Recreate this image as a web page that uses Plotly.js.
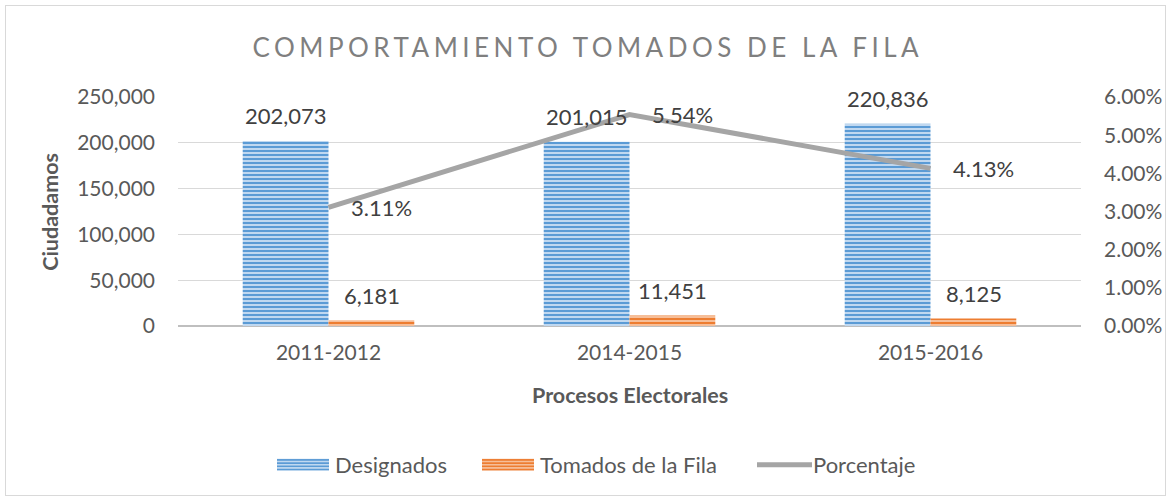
<!DOCTYPE html>
<html>
<head>
<meta charset="utf-8">
<script src="https://cdn.plot.ly/plotly-3.0.1.min.js"></script>
<style>
  html, body { margin: 0; padding: 0; background: #fff; }
  #wrap { position: relative; width: 1171px; height: 501px; }
  #chart { position: absolute; left: 0; top: 0; width: 1171px; height: 501px; }
  #frame { position: absolute; left: 5px; top: 5px; width: 1159px; height: 489px; border: 1px solid #D9D9D9; pointer-events: none; }
  .gtitle { letter-spacing: 4.5px; }
</style>
</head>
<body>
<div id="wrap">
  <div id="chart"></div>
  <div id="frame"></div>
</div>
<script>
// ---- data ----
const categories = ["2011-2012", "2014-2015", "2015-2016"];
const designados = [202073, 201015, 220836];
const tomados = [6181, 11451, 8125];
const porcentaje = [0.0311, 0.0554, 0.0413];
const leftTicks = [0, 50000, 100000, 150000, 200000, 250000];
const rightTicks = [0, 0.01, 0.02, 0.03, 0.04, 0.05, 0.06];

const FONT = "Lato, 'Open Sans', sans-serif";
const fmtInt = v => v.toLocaleString("en-US");
const fmtPct = v => (v * 100).toFixed(2) + "%";

const traces = [
  {
    type: "bar", name: "Designados", x: categories, y: designados,
    marker: { color: "#5B9BD5",
      pattern: { shape: "-", fgcolor: "#5B9BD5", bgcolor: "#C0D8F0", size: 4, solidity: 0.5, fillmode: "replace" },
      line: { width: 0 } },
    hoverinfo: "skip"
  },
  {
    type: "bar", name: "Tomados de la Fila", x: categories, y: tomados,
    marker: { color: "#ED7D31",
      pattern: { shape: "-", fgcolor: "#ED7D31", bgcolor: "#F6BE98", size: 4, solidity: 0.5, fillmode: "replace" },
      line: { width: 0 } },
    hoverinfo: "skip"
  },
  {
    type: "scatter", mode: "lines", name: "Porcentaje", x: categories, y: porcentaje,
    yaxis: "y2", line: { color: "#A5A5A5", width: 5 }, hoverinfo: "skip"
  }
];

const LBL = { family: FONT, size: 22, color: "#404040" };
const annotations = [];
categories.forEach((c, i) => {
  annotations.push({ x: c, y: designados[i], xref: "x", yref: "y", text: fmtInt(designados[i]),
    showarrow: false, xshift: -43, yshift: 25, font: LBL });
  annotations.push({ x: c, y: tomados[i], xref: "x", yref: "y", text: fmtInt(tomados[i]),
    showarrow: false, xshift: 43, yshift: 25, font: LBL });
  annotations.push({ x: c, y: porcentaje[i], xref: "x", yref: "y2", text: fmtPct(porcentaje[i]),
    showarrow: false, xanchor: "left", xshift: 20, yshift: 0, font: LBL });
});
annotations.push({ xref: "paper", yref: "paper", x: -0.1425, y: 0.5, xanchor: "center", yanchor: "middle", textangle: -90,
  text: "<b>Ciudadamos</b>", showarrow: false, font: { family: FONT, size: 21.5, color: "#595959" } });
annotations.push({ xref: "paper", yref: "paper", x: 0.5, y: -0.301, xanchor: "center", yanchor: "middle",
  text: "<b>Procesos Electorales</b>", showarrow: false, font: { family: FONT, size: 21.5, color: "#595959" } });

const layout = {
  width: 1171, height: 501,
  margin: { l: 178, r: 90, t: 97, b: 175 },
  paper_bgcolor: "#fff", plot_bgcolor: "#fff",
  font: { family: FONT, size: 21, color: "#595959" },
  title: { text: "COMPORTAMIENTO TOMADOS DE LA FILA", x: 0.502, xref: "container", xanchor: "center",
    y: 0.905, yref: "container", yanchor: "middle",
    font: { family: FONT, size: 26, color: "#7F7F7F" } },
  barmode: "group", bargap: 0.43, bargroupgap: 0,
  showlegend: true,
  legend: { orientation: "h", xref: "container", x: 0.51, xanchor: "center", yref: "container", y: 0.072, yanchor: "middle",
    font: { family: FONT, size: 22, color: "#595959" }, itemwidth: 60, traceorder: "normal" },
  xaxis: {
    type: "category", showgrid: false, showline: false, ticks: "", ticklabelstandoff: 12,
    tickfont: { family: FONT, size: 21, color: "#595959" }, fixedrange: true
  },
  yaxis: {
    range: [0, 250000], tickvals: leftTicks, ticktext: leftTicks.map(fmtInt),
    showgrid: true, gridcolor: "#D9D9D9", gridwidth: 1,
    zeroline: true, zerolinecolor: "#BFBFBF", zerolinewidth: 2,
    ticks: "", ticklabelstandoff: 22, showline: false,
    tickfont: { family: FONT, size: 21, color: "#595959" }, fixedrange: true
  },
  yaxis2: {
    overlaying: "y", side: "right", range: [0, 0.06], tickvals: rightTicks, ticktext: rightTicks.map(fmtPct),
    showgrid: false, zeroline: false, ticks: "", ticklabelstandoff: 22, showline: false,
    tickfont: { family: FONT, size: 21, color: "#595959" }, fixedrange: true
  },
  annotations: annotations
};

// desired left edge (page px) of each legend key, as in the original layout
const legendKeyLeft = [277, 482, 757];

Plotly.newPlot("chart", traces, layout, { displayModeBar: false, staticPlot: true }).then(gd => {
  gd.querySelectorAll(".legend [clip-path]").forEach(el => el.removeAttribute("clip-path"));
  const items = Array.from(gd.querySelectorAll(".legend .traces"));
  items.forEach((g, i) => {
    const txt = g.querySelector("text.legendtext");
    if (!txt) return;
    const tx = parseFloat(txt.getAttribute("x")) || 40;
    const isLine = g.querySelectorAll(".legendpoints path").length === 0;
    const x1 = isLine ? tx - 1 : tx - 6;
    const x0 = x1 - (isLine ? 55 : 52);
    g.querySelectorAll(".legendpoints path").forEach(p => {
      p.setAttribute("transform", "");
      p.setAttribute("d", `M${x0},-6H${x1}V6H${x0}Z`);
    });
    g.querySelectorAll(".legendlines path").forEach(p => {
      p.setAttribute("d", `M${x0},0H${x1}`);
    });
    const keyEl = g.querySelector(".legendpoints path") || g.querySelector(".legendlines path");
    if (keyEl && legendKeyLeft[i] !== undefined) {
      const left = keyEl.getBoundingClientRect().left;
      const dx = legendKeyLeft[i] - left;
      const tr = g.getAttribute("transform") || "translate(0,0)";
      const m = tr.match(/translate\(\s*([-\d.e]+)[ ,]+([-\d.e]+)\s*\)/);
      const a = m ? parseFloat(m[1]) : 0, b = m ? parseFloat(m[2]) : 0;
      g.setAttribute("transform", `translate(${a + dx},${b})`);
    }
  });
});
</script>
</body>
</html>
